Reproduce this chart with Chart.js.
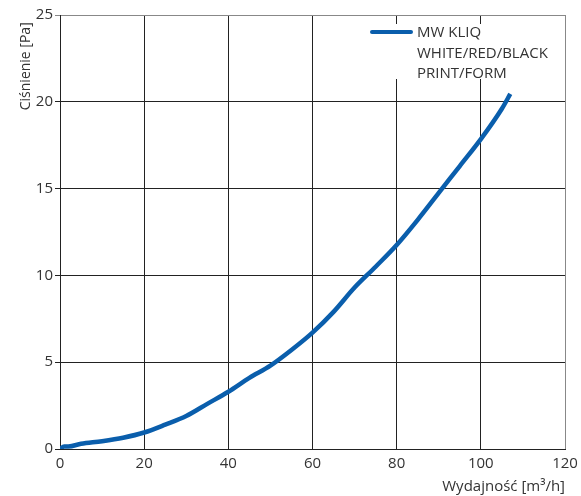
<!DOCTYPE html>
<html>
<head>
<meta charset="utf-8">
<script src="https://cdn.jsdelivr.net/npm/chart.js@4/dist/chart.umd.min.js"></script>
<style>
  html, body { margin: 0; padding: 0; background: #fff; }
  #wrap { width: 581px; height: 496px; }
</style>
</head>
<body>
<div id="wrap"><canvas id="chart" width="581" height="496"></canvas></div>
<script>
// przepływ [m3/h] i ciśnienie [Pa]
const flow = [0, 1, 2, 5, 10, 15, 20, 25, 30, 35, 40, 45, 50, 55, 60, 65, 70, 75, 80, 85, 90, 95, 100, 105, 107];
const pressure = [0, 0.15, 0.15, 0.3, 0.45, 0.65, 0.95, 1.4, 1.9, 2.6, 3.3, 4.1, 4.8, 5.7, 6.7, 7.9, 9.3, 10.5, 11.75, 13.2, 14.75, 16.3, 17.85, 19.6, 20.45];
const seriesLabel = ['MW KLIQ', 'WHITE/RED/BLACK', 'PRINT/FORM'];

const FONT = "'Open Sans', 'DejaVu Sans', sans-serif";
const lineColor = '#0a5eac';

// legenda rysowana ręcznie na białym tle (zakrywa siatkę)
const legendBox = {
  id: 'legendBox',
  afterDatasetsDraw(chart) {
    const ctx = chart.ctx;
    const area = chart.chartArea;
    const label = chart.data.datasets[0].label;
    const x = area.right - 193;
    const y = area.top + 9;
    ctx.save();
    ctx.fillStyle = '#fff';
    ctx.fillRect(x - 4, y, 190, 55);
    ctx.strokeStyle = lineColor;
    ctx.lineWidth = 4;
    ctx.lineCap = 'round';
    ctx.beginPath();
    ctx.moveTo(x, y + 8);
    ctx.lineTo(x + 39, y + 8);
    ctx.stroke();
    ctx.fillStyle = '#333';
    ctx.font = '15px ' + FONT;
    ctx.textBaseline = 'middle';
    label.forEach((t, i) => ctx.fillText(t, x + 45, y + 9 + i * 20.5));
    ctx.restore();
  }
};

new Chart(document.getElementById('chart'), {
  type: 'line',
  data: {
    labels: flow,
    datasets: [{
      label: seriesLabel,
      data: flow.map((v, i) => ({ x: v, y: pressure[i] })),
      borderColor: lineColor,
      borderWidth: 4.5,
      pointRadius: 0,
      tension: 0.4,
      cubicInterpolationMode: 'monotone',
      fill: false
    }]
  },
  options: {
    responsive: false,
    animation: false,
    layout: { padding: { left: 0, right: 16, top: 15, bottom: 0 } },
    plugins: {
      legend: { display: false },
      tooltip: { enabled: false }
    },
    scales: {
      x: {
        type: 'linear',
        min: 0,
        max: 120,
        ticks: { stepSize: 20, color: '#333', font: { family: FONT, size: 15 }, padding: 6 },
        grid: {
          color: ctx => ctx.tick && ctx.tick.value === 120 ? '#888' : '#222',
          lineWidth: 1,
          drawTicks: false
        },
        border: { color: '#222', width: 1 },
        title: {
          display: true,
          text: 'Wydajność [m³/h]',
          align: 'end',
          color: '#333',
          font: { family: FONT, size: 15 },
          padding: { top: 0, bottom: 0 }
        },
        afterFit(scale) {
          scale.height = 47;
          scale.paddingRight = 0;
        }
      },
      y: {
        min: 0,
        max: 25,
        ticks: { stepSize: 5, color: '#333', font: { family: FONT, size: 15 }, padding: 2 },
        grid: {
          color: ctx => ctx.tick && ctx.tick.value === 25 ? '#888' : '#222',
          lineWidth: 1,
          tickLength: 5
        },
        border: { color: '#222', width: 1 },
        title: {
          display: true,
          text: 'Ciśnienie [Pa]  ',
          align: 'end',
          color: '#333',
          font: { family: FONT, size: 14 },
          padding: { top: 18, bottom: 0 }
        },
        afterFit(scale) { scale.width = 60; }
      }
    }
  },
  plugins: [legendBox]
});
</script>
</body>
</html>
